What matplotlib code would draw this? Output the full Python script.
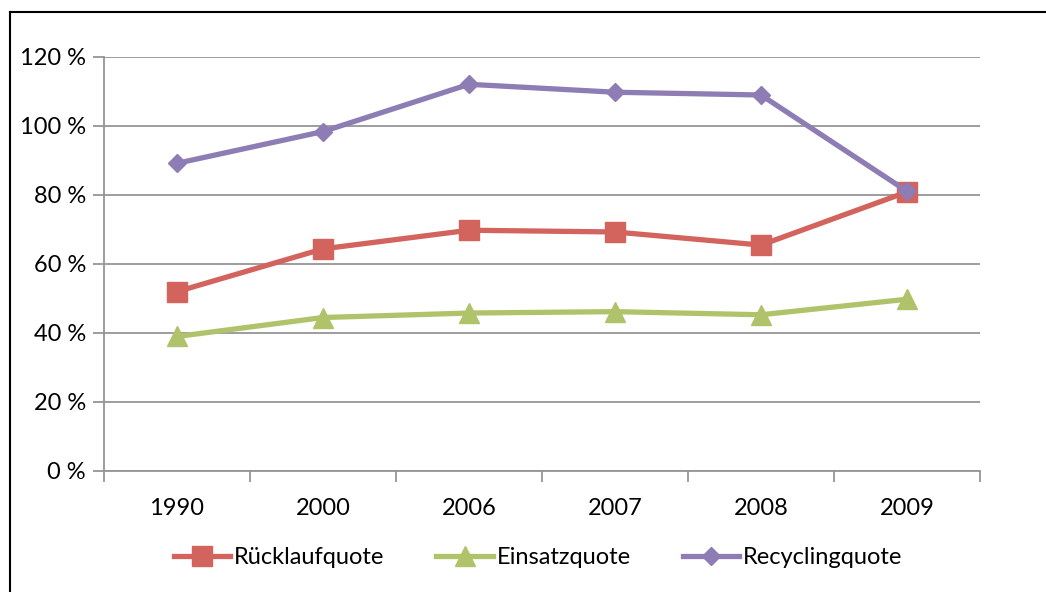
import matplotlib
matplotlib.use("Agg")
import matplotlib.pyplot as plt
from matplotlib.lines import Line2D
from matplotlib.ticker import FuncFormatter, FixedLocator

years = ["1990", "2000", "2006", "2007", "2008", "2009"]
ruecklauf = [51.9, 64.3, 69.7, 69.2, 65.4, 80.8]
einsatz = [38.9, 44.4, 45.7, 46.1, 45.2, 49.7]
recycling = [89.1, 98.3, 112.0, 109.7, 108.9, 81.0]
series_names = ["Rücklaufquote", "Einsatzquote", "Recyclingquote"]
y_ticks = [0, 20, 40, 60, 80, 100, 120]

plt.rcParams["font.family"] = ["Lato", "DejaVu Sans"]

W, H = 1046, 592
fig = plt.figure(figsize=(W / 100, H / 100), dpi=100)
ax = fig.add_axes([104 / W, 1 - 470.7 / H, (980 - 104) / W, (470.7 - 56.7) / H])

grid_c = "#959595"
x = list(range(len(years)))
red, green, purple = "#D2645D", "#B0C36A", "#8E7CB4"
fs = 17

ax.plot(x, ruecklauf, color=red, lw=3.8, marker="s", ms=14, zorder=3, solid_capstyle="round")
ax.plot(x, einsatz, color=green, lw=3.8, marker="^", ms=15, zorder=3, solid_capstyle="round")
ax.plot(x, recycling, color=purple, lw=3.8, marker="D", ms=9, zorder=4, solid_capstyle="round")

ax.set_xlim(-0.5, len(years) - 0.5)
ax.set_ylim(0, 120)
ax.set_yticks(y_ticks)
ax.yaxis.set_major_formatter(FuncFormatter(lambda v, p: f"{int(v)} %"))
ax.grid(axis="y", color=grid_c, lw=1.3)
ax.set_axisbelow(True)

ax.set_xticks(x)
ax.set_xticklabels(years)
ax.xaxis.set_minor_locator(FixedLocator([i - 0.5 for i in range(len(years) + 1)]))
ax.tick_params(axis="x", which="major", length=0, pad=20, labelsize=fs, colors="black")
ax.tick_params(axis="x", which="minor", length=8, width=1.3, color=grid_c)
ax.tick_params(axis="y", length=8, width=1.3, color=grid_c, labelsize=fs, pad=5)

for s in ["top", "right"]:
    ax.spines[s].set_visible(False)
for s in ["left", "bottom"]:
    ax.spines[s].set_color(grid_c)
    ax.spines[s].set_linewidth(1.3)

handles = [
    Line2D([], [], color=red, lw=3.8, marker="s", ms=14),
    Line2D([], [], color=green, lw=3.8, marker="^", ms=15),
    Line2D([], [], color=purple, lw=3.8, marker="D", ms=9),
]
fig.legend(handles, series_names, loc="center", bbox_to_anchor=(538 / W, 1 - 558 / H),
           ncol=3, frameon=False, fontsize=fs, handlelength=2.4, handletextpad=0.15,
           columnspacing=2.2)

# outer chart frame
fig.add_artist(Line2D([9.5 / W, 9.5 / W], [0, 1 - 12 / H], color="black", lw=1.5,
                      transform=fig.transFigure))
fig.add_artist(Line2D([9.5 / W, 1], [1 - 12 / H, 1 - 12 / H], color="black", lw=1.5,
                      transform=fig.transFigure))

fig.savefig("out.png", dpi=100)
